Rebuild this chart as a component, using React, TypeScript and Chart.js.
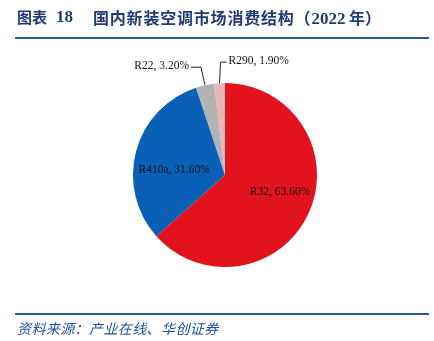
import React, { useEffect, useRef } from "react";
import { Chart, registerables } from "chart.js";

Chart.register(...registerables);

const categories = ["R32", "R410a", "R22", "R290"];
const shares = [63.6, 31.6, 3.2, 1.9];
const sliceColors = ["#E3131E", "#0A60B6", "#B3B3B3", "#E8B6B9"];

const labelPlugin = {
  id: "sliceLabels",
  afterDatasetsDraw(chart: any) {
    const ctx = chart.ctx;
    const meta = chart.getDatasetMeta(0);
    ctx.save();
    ctx.font = "11.5px 'Liberation Serif', 'Times New Roman', serif";
    ctx.fillStyle = "#111";
    ctx.textBaseline = "middle";
    meta.data.forEach((arc: any, i: number) => {
      const { x, y, startAngle, endAngle, outerRadius } = arc.getProps(
        ["x", "y", "startAngle", "endAngle", "outerRadius"],
        true
      );
      const mid = (startAngle + endAngle) / 2;
      const text = `${categories[i]}, ${shares[i].toFixed(2)}%`;
      if (i === 0) {
        const r = outerRadius * 0.62;
        ctx.textAlign = "center";
        ctx.fillText(text, x + r * Math.cos(mid) + 3, y + r * Math.sin(mid) - 6);
      } else if (i === 1) {
        const r = outerRadius * 0.55;
        ctx.textAlign = "center";
        ctx.fillText(text, x + r * Math.cos(mid) - 2, y + r * Math.sin(mid) + 8);
      } else {
        const ex = x + outerRadius * Math.cos(mid);
        const ey = y + outerRadius * Math.sin(mid);
        ctx.strokeStyle = "#222";
        ctx.lineWidth = 1;
        ctx.beginPath();
        if (i === 2) {
          const tx = ex - 14;
          const ty = ey - 18;
          ctx.moveTo(ex, ey);
          ctx.lineTo(ex - 4, ty);
          ctx.lineTo(tx, ty);
          ctx.stroke();
          ctx.textAlign = "right";
          ctx.fillText(text, tx - 2, ty - 1);
        } else {
          const tx = ex + 7;
          const ty = ey - 21;
          ctx.moveTo(ex, ey);
          ctx.lineTo(ex + 1, ty);
          ctx.lineTo(tx, ty);
          ctx.stroke();
          ctx.textAlign = "left";
          ctx.fillText(text, tx + 2, ty - 1);
        }
      }
    });
    ctx.restore();
  },
};

const cjk = "'Noto Sans CJK SC', sans-serif";
const serif = "'Liberation Serif', 'Times New Roman', serif";

export default function App() {
  const ref = useRef<HTMLCanvasElement>(null);
  useEffect(() => {
    document.body.style.margin = "0";
    const chart = new Chart(ref.current!, {
      type: "pie",
      data: {
        labels: categories,
        datasets: [
          {
            data: shares,
            backgroundColor: sliceColors,
            borderWidth: 0,
          },
        ],
      },
      options: {
        animation: false,
        responsive: false,
        layout: { padding: { left: 133, right: 117, top: 83, bottom: 74 } },
        plugins: { legend: { display: false }, tooltip: { enabled: false } },
      },
      plugins: [labelPlugin],
    });
    return () => chart.destroy();
  }, []);

  const titleBase: React.CSSProperties = {
    position: "absolute",
    top: 7,
    fontWeight: "bold",
    fontSize: 16,
    color: "#1F3B73",
    whiteSpace: "pre",
    lineHeight: "20px",
  };

  return (
    <div style={{ position: "absolute", left: 0, top: 0, width: 434, height: 341, background: "#fff" }}>
      <canvas ref={ref} width={434} height={341} style={{ position: "absolute", left: 0, top: 0 }} />
      <div style={{ ...titleBase, left: 17, fontFamily: cjk, fontSize: 15 }}>图表</div>
      <div style={{ ...titleBase, left: 56, fontFamily: serif, fontSize: 17 }}>18</div>
      <div style={{ ...titleBase, left: 93, fontFamily: cjk }}>
        <span style={{ letterSpacing: 0.8 }}>国内新装空调市场消费结构（</span>
        <span style={{ fontFamily: serif, fontSize: 17 }}>2022</span>
        <span> 年）</span>
      </div>
      <div style={{ position: "absolute", left: 15, top: 37, width: 414, height: 2, background: "#2E59A0" }} />
      <div style={{ position: "absolute", left: 15, top: 313, width: 414, height: 2, background: "#2E59A0" }} />
      <div
        style={{
          position: "absolute",
          left: 17,
          top: 319,
          fontFamily: cjk,
          fontStyle: "italic",
          fontSize: 14,
          letterSpacing: 0.4,
          color: "#1F4E9A",
          lineHeight: "18px",
        }}
      >
        资料来源：产业在线、华创证券
      </div>
    </div>
  );
}
